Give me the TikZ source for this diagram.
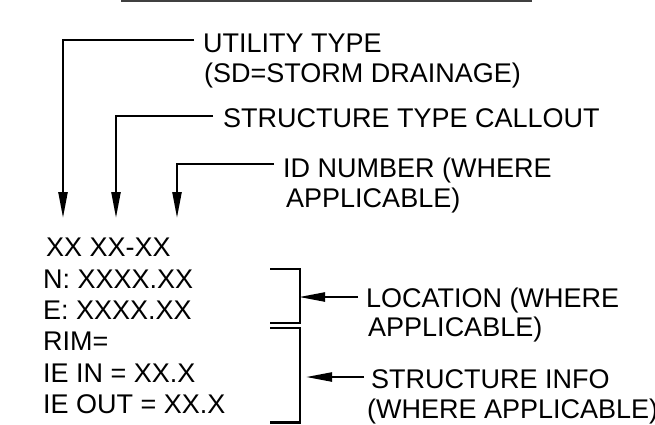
\documentclass[tikz,border=0pt]{standalone}
\usepackage{fontspec}
\setmainfont{Liberation Sans}
\usetikzlibrary{arrows.meta}
\begin{document}
\begin{tikzpicture}[x=1pt,y=-1pt,
  lbl/.style={anchor=base west,inner sep=0pt,font=\fontsize{27}{31}\selectfont},
  lead/.style={line width=2.3pt,line join=miter},
  tipped/.style={lead,-{Triangle[length=26pt,width=9pt]}}]
\useasboundingbox (0,0) rectangle (655,424);
% top rule
\coordinate (r1) at (121,1);
\coordinate (r2) at (532,1);
\draw[line width=2.2pt,black!75] (r1) -- (r2);
% labels
\node[lbl] (ut1) at (203,52.5) {UTILITY TYPE};
\node[lbl] (ut2) at (204,82.5) {(SD=STORM DRAINAGE)};
\node[lbl] (st)  at (223,127) {STRUCTURE TYPE CALLOUT};
\node[lbl] (id1) at (283,177) {ID NUMBER (WHERE};
\node[lbl] (id2) at (286,207) {APPLICABLE)};
\node[lbl] (t1) at (46,256.5) {XX XX-XX};
\node[lbl] (t2) at (43,288) {N: XXXX.XX};
\node[lbl] (t3) at (43,319.5) {E: XXXX.XX};
\node[lbl] (t4) at (43,350.5) {RIM=};
\node[lbl] (t5) at (43,382) {IE IN = XX.X};
\node[lbl] (t6) at (43,413.5) {IE OUT = XX.X};
\node[lbl] (lo1) at (366,307.5) {LOCATION (WHERE};
\node[lbl] (lo2) at (368,336) {APPLICABLE)};
\node[lbl] (si1) at (371,388) {STRUCTURE INFO};
\node[lbl] (si2) at (367,418) {(WHERE APPLICABLE)};
% leader coordinates
\coordinate (u0) at (194,40);  \coordinate (ua) at (63,218);
\coordinate (s0) at (213,116); \coordinate (sa) at (116,218);
\coordinate (i0) at (274,164); \coordinate (ia) at (177,218);
\draw[tipped] (u0) -| (ua);
\draw[tipped] (s0) -| (sa);
\draw[tipped] (i0) -| (ia);
% brackets
\coordinate (b1a) at (270,269); \coordinate (b1b) at (300,323);
\coordinate (b2a) at (270,328); \coordinate (b2b) at (300,422.5);
\draw[lead] (b1a) -| (b1b) -- (b1b -| b1a);
\draw[lead] (b2a) -| (b2b) -- (b2b -| b2a);
% side arrows
\coordinate (l0) at (358,297); \coordinate (la) at (299,297);
\coordinate (m0) at (364,377); \coordinate (ma) at (306,377);
\draw[tipped] (l0) -- (la);
\draw[tipped] (m0) -- (ma);
\end{tikzpicture}
\end{document}
